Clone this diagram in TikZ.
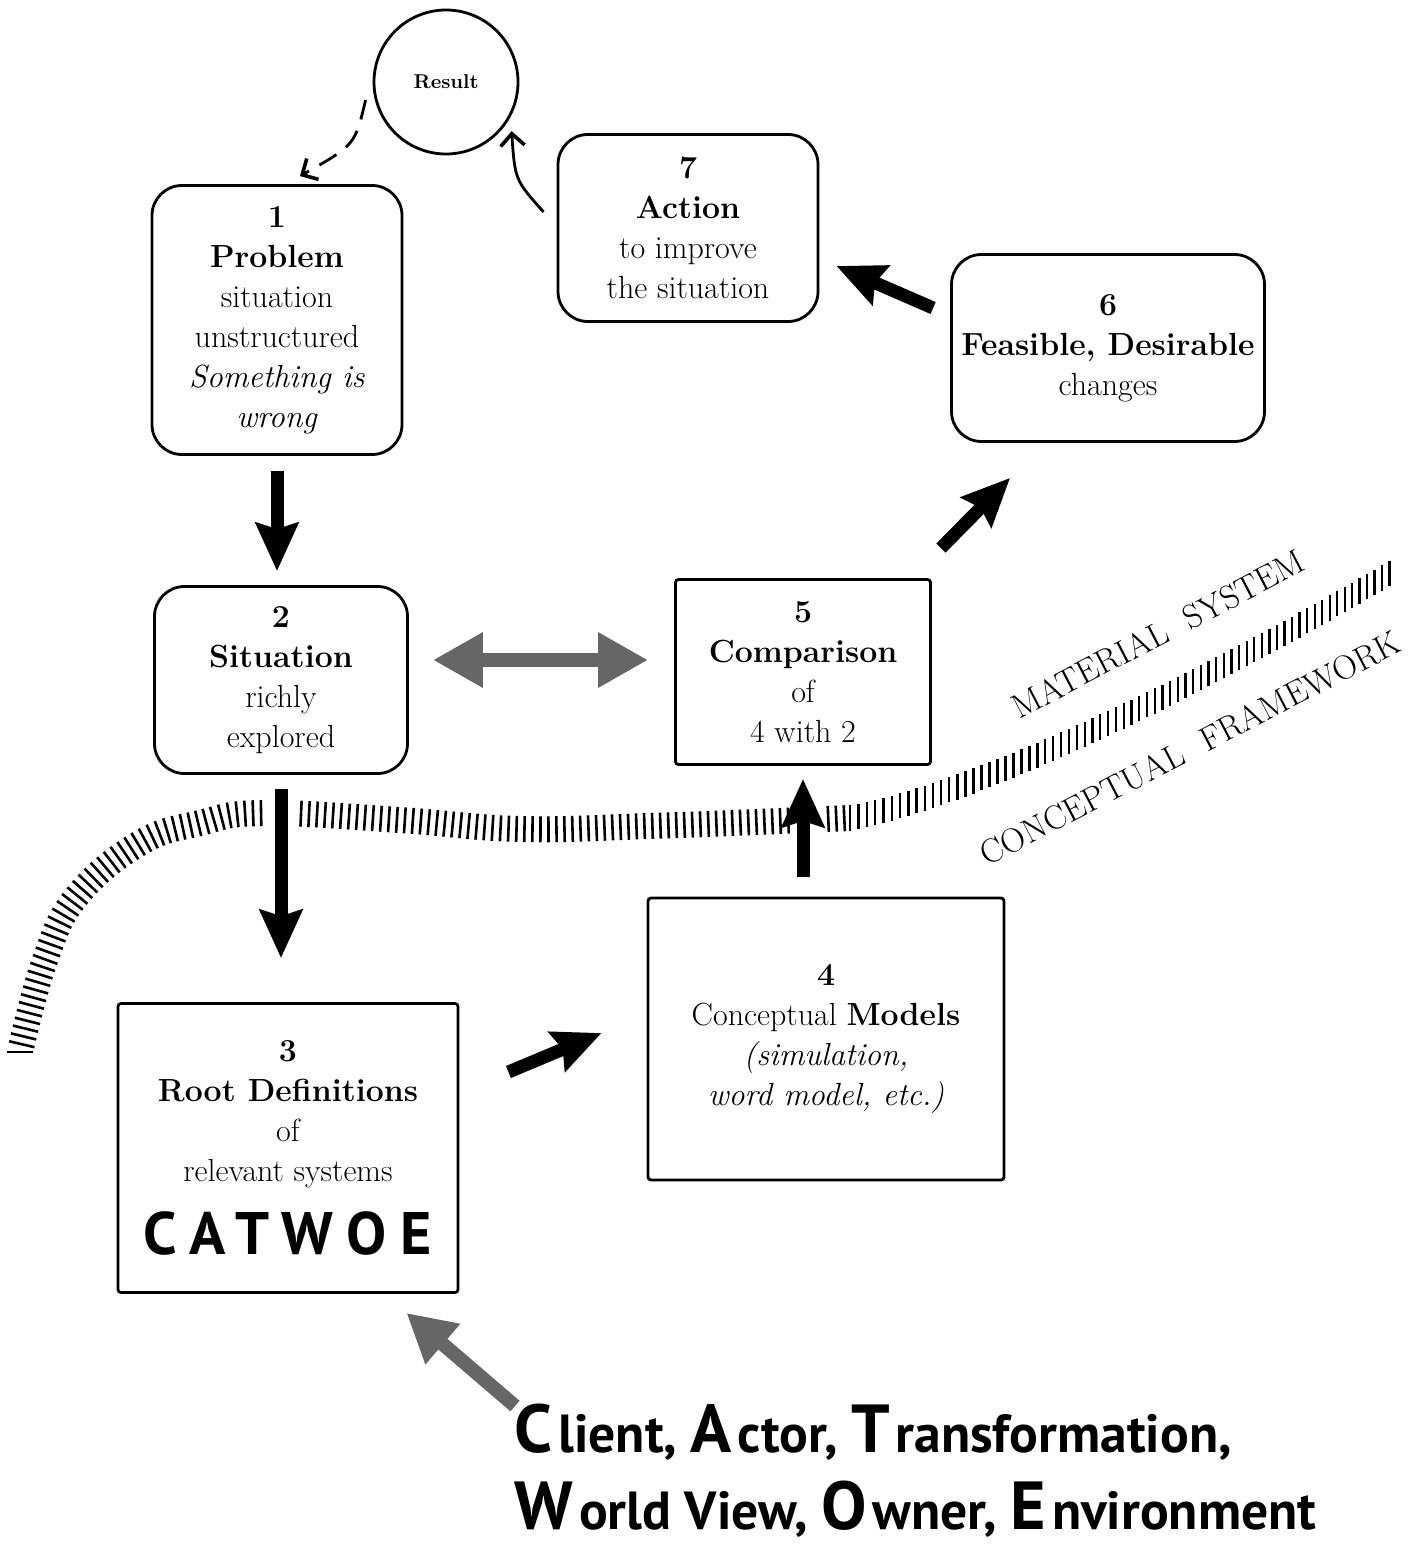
\documentclass[tikz,border=0pt]{standalone}
\usepackage{fontspec}
\newfontfamily\gillfont{PT Sans}
\newfontfamily\catfont[LetterSpace=24]{PT Sans}
\usetikzlibrary{arrows.meta,decorations.markings}
\newcommand\bigini[1]{{\fontsize{34}{38}\selectfont #1}\hspace{3pt}}
\begin{document}
\begin{tikzpicture}[x=0.5pt,y=-0.5pt,
  every node/.style={inner sep=0pt},
  rbox/.style={draw, line width=1.4pt, rounded corners=15pt, align=center, font=\fontsize{16}{20}\selectfont},
  sbox/.style={draw, line width=1.4pt, rounded corners=1.5pt, align=center, font=\fontsize{16}{20}\selectfont},
  bigarrow/.style={line width=6.5pt, -{Stealth[length=24pt,width=21pt,inset=3pt]}},
  grayarrow/.style={draw=black!60, line width=7pt},
  thinarrow/.style={line width=1.4pt, -{Straight Barb[length=6pt,width=12pt,line width=1.8pt]}},
  tickband/.style={decoration={markings, mark=between positions 0 and 1 step 4pt with {\draw[line width=1.3pt] (0pt,-6.5pt) -- (0pt,6.5pt);}}, decorate},
  vtickband/.style={decoration={markings, mark=between positions 0 and 1 step 4.3pt with {\pgftransformresetnontranslations\draw[line width=1.15pt] (0pt,-6.3pt) -- (0pt,6.3pt);}}, decorate},
  bandlabel/.style={rotate=27.5, font=\fontsize{17}{17}\selectfont}
]
\useasboundingbox (0,0) rectangle (1407,1546);

% boundary band
\path[tickband] plot[smooth, tension=0.7] coordinates {(20,1052) (45,960) (77,896) (140,843) (200,823) (263,813) (400,820) (520,829) (650,826) (780,821) (850,818)};
\path[vtickband] (850,818) .. controls (950,800) and (1150,715) .. (1392,572);
\fill[white] (265,795) rectangle (297,850);
\fill[white] (790,790) rectangle (826,850);

\node[bandlabel] (mat) at (1158,634) {MATERIAL\hspace{11pt}SYSTEM};
\node[bandlabel] (con) at (1190,748) {CONCEPTUAL\hspace{11pt}FRAMEWORK};

% boxes
\node[draw, circle, line width=1.4pt, minimum size=72pt, font=\fontsize{10}{12}\selectfont\bfseries] (result) at (446,82) {Result};
\node[rbox, minimum width=125pt, minimum height=134.5pt] (n1) at (277,320)
  {\textbf{1}\\\textbf{Problem}\\situation\\unstructured\\\textit{Something is}\\\textit{wrong}};
\node[rbox, minimum width=130pt, minimum height=93.5pt] (n7) at (688,228)
  {\textbf{7}\\\textbf{Action}\\to improve\\the situation};
\node[rbox, minimum width=156.5pt, minimum height=93.5pt] (n6) at (1108,348)
  {\textbf{6}\\\textbf{Feasible, Desirable}\\changes};
\node[rbox, minimum width=126.5pt, minimum height=93.5pt] (n2) at (281,680)
  {\textbf{2}\\\textbf{Situation}\\richly\\explored};
\node[sbox, minimum width=127.5pt, minimum height=92.5pt] (n5) at (803,672)
  {\textbf{5}\\\textbf{Comparison}\\of\\4 with 2};
\node[sbox, minimum width=170pt, minimum height=144.5pt] (n3) at (288,1148)
  {\textbf{3}\\\textbf{Root Definitions}\\of\\relevant systems\\[11pt]{\catfont\bfseries\fontsize{30}{30}\selectfont CATWOE}};
\node[sbox, minimum width=178pt, minimum height=141pt] (n4) at (826,1039)
  {\textbf{4}\\Conceptual \textbf{Models}\\\textit{(simulation,}\\\textit{word model, etc.)}};

\node[anchor=north west, align=left, font=\gillfont\bfseries\fontsize{26.8}{38.5}\selectfont] (cw) at (514,1404)
  {\bigini{C}lient, \bigini{A}ctor, \bigini{T}ransformation,\\\bigini{W}orld View, \bigini{O}wner, \bigini{E}nvironment};

% connectors
\draw[bigarrow, shorten <=7.5pt, shorten >=7pt] (n1.south) -- (n1.south |- n2.north);
\draw[bigarrow, shorten <=7pt, shorten >=22pt] (n2.south) -- (n2.south |- n3.north);
\draw[bigarrow, shorten <=10pt, shorten >=6.5pt] (n5.south |- n4.north) -- (n5.south);
\draw[bigarrow] ([shift={(49,-76)}]n3.east) -- ([shift={(-45,-6)}]n4.west);
\draw[bigarrow] ([shift={(9,-30)}]n5.north east) -- ([shift={(60,35)}]n6.south west);
\draw[bigarrow] ([shift={(-17,-40)}]n6.west) -- ([shift={(17,38)}]n7.east);
\draw[grayarrow, {Triangle[length=25pt,width=26pt]}-{Triangle[length=25pt,width=26pt]}, shorten <=12pt, shorten >=13pt]
  ([shift={(0,-20)}]n2.east) -- ([shift={(0,-12)}]n5.west);
\draw[grayarrow, -{Triangle[length=24pt,width=25pt]}] ([shift={(1,2)}]cw.north west) -- ([shift={(-53,19)}]n3.south east);
\draw[thinarrow, dash pattern=on 10pt off 6pt] ([shift={(-7,18)}]result.west) .. controls (355,145) .. ([shift={(23,-8)}]n1.north);
\draw[thinarrow] ([shift={(-13,-16)}]n7.west) .. controls (515,180) .. ([shift={(7,5)}]result.-37);
\end{tikzpicture}
\end{document}
